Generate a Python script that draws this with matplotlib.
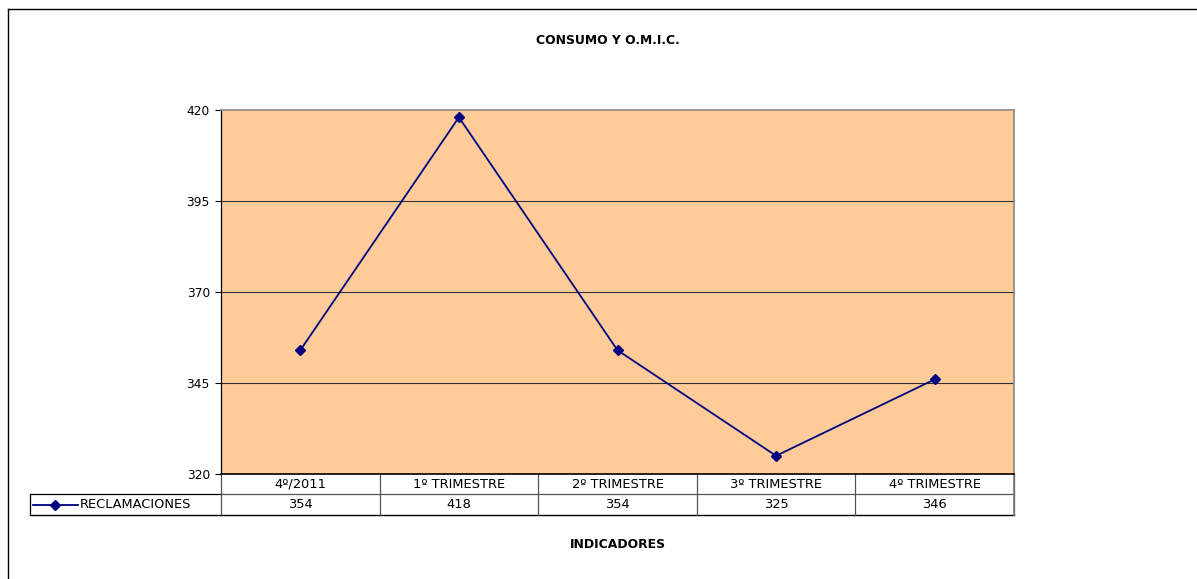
import matplotlib.pyplot as plt
from matplotlib.lines import Line2D
import matplotlib.transforms as mtransforms

categories = ["4º/2011", "1º TRIMESTRE", "2º TRIMESTRE", "3º TRIMESTRE", "4º TRIMESTRE"]
reclamaciones = [354, 418, 354, 325, 346]
series_name = "RECLAMACIONES"
yticks = [320, 345, 370, 395, 420]

plt.rcParams['font.family'] = ['DejaVu Sans']
FS = 8.8
FT = 9.4

W, H = 1197, 579
fig = plt.figure(figsize=(W / 100, H / 100), dpi=100)

# axes in pixel coords
left, right, top, bottom = 221, 1014, 110, 474
ax = fig.add_axes([left / W, 1 - bottom / H, (right - left) / W, (bottom - top) / H])
ax.set_facecolor("#FFCC99")

x = list(range(len(categories)))
ax.plot(x, reclamaciones, color="#000080", lw=1.3, marker="D", ms=5.5,
        mfc="#000080", mec="#000080", zorder=3)

ax.set_xlim(-0.5, len(categories) - 0.5)
ax.set_ylim(yticks[0], yticks[-1])
ax.set_yticks(yticks)
ax.set_xticks([])
ax.tick_params(axis="y", direction="out", length=4, width=0.8, labelsize=FS, pad=4)
for t in yticks[1:-1]:
    ax.axhline(t, color="#333333", lw=0.8, zorder=1)

ax.spines["top"].set_color("#888888")
ax.spines["right"].set_color("#888888")
ax.spines["top"].set_linewidth(1.2)
ax.spines["right"].set_linewidth(1.2)
ax.spines["left"].set_color("black")
ax.spines["bottom"].set_color("black")
ax.spines["left"].set_linewidth(0.9)
ax.spines["bottom"].set_linewidth(1.2)

# data table under the plot
trans = mtransforms.blended_transform_factory(ax.transData, ax.transAxes)
ah = bottom - top
r1 = -20 / ah
r2 = -41 / ah
xleg = (30 - left) / (right - left)
n = len(categories)
lk = dict(color="#555555", lw=0.9, clip_on=False)
ax.add_line(Line2D([-0.5, n - 0.5], [r1, r1], transform=trans, **lk))
ax.add_line(Line2D([-0.5, n - 0.5], [r2, r2], color="black", lw=1.0, clip_on=False, transform=trans))
ax.add_line(Line2D([xleg, 0], [r1, r1], transform=ax.transAxes, color="black", lw=0.9, clip_on=False))
ax.add_line(Line2D([xleg, 0], [r2, r2], transform=ax.transAxes, color="black", lw=1.0, clip_on=False))
ax.add_line(Line2D([xleg, xleg], [r1, r2], transform=ax.transAxes, color="black", lw=0.9, clip_on=False))
for i in range(n + 1):
    xv = i - 0.5
    ax.add_line(Line2D([xv, xv], [0, r2], transform=trans, **lk))
ax.add_line(Line2D([n - 0.5, n - 0.5], [0, r2], transform=trans, color="#777777", lw=1.2, clip_on=False))

for i, (c, v) in enumerate(zip(categories, reclamaciones)):
    ax.text(i, r1 / 2, c, transform=trans, ha="center", va="center", fontsize=FT)
    ax.text(i, (r1 + r2) / 2, str(v), transform=trans, ha="center", va="center", fontsize=FT)

# legend key in table
ym = (r1 + r2) / 2
kx0 = (33 - left) / (right - left)
kx1 = (78 - left) / (right - left)
ax.add_line(Line2D([kx0, kx1], [ym, ym], transform=ax.transAxes, color="#000080", lw=1.3,
                   clip_on=False))
ax.add_line(Line2D([(kx0 + kx1) / 2], [ym], transform=ax.transAxes, color="#000080",
                   marker="D", ms=5.5, clip_on=False))
ax.text((80 - left) / (right - left), ym, series_name, transform=ax.transAxes,
        ha="left", va="center", fontsize=FT)

# titles
fig.text(608 / W, 1 - 40 / H, "CONSUMO Y O.M.I.C.", ha="center", va="center",
         fontsize=8.9, fontweight="bold")
fig.text(618 / W, 1 - 545 / H, "INDICADORES", ha="center", va="center",
         fontsize=8.9, fontweight="bold")

# chart area frame
fig.add_artist(Line2D([8 / W, 1], [1 - 9 / H, 1 - 9 / H], color="black", lw=1.0,
                      transform=fig.transFigure))
fig.add_artist(Line2D([8 / W, 8 / W], [1 - 9 / H, 0], color="black", lw=1.0,
                      transform=fig.transFigure))

fig.savefig("out.png", dpi=100)
